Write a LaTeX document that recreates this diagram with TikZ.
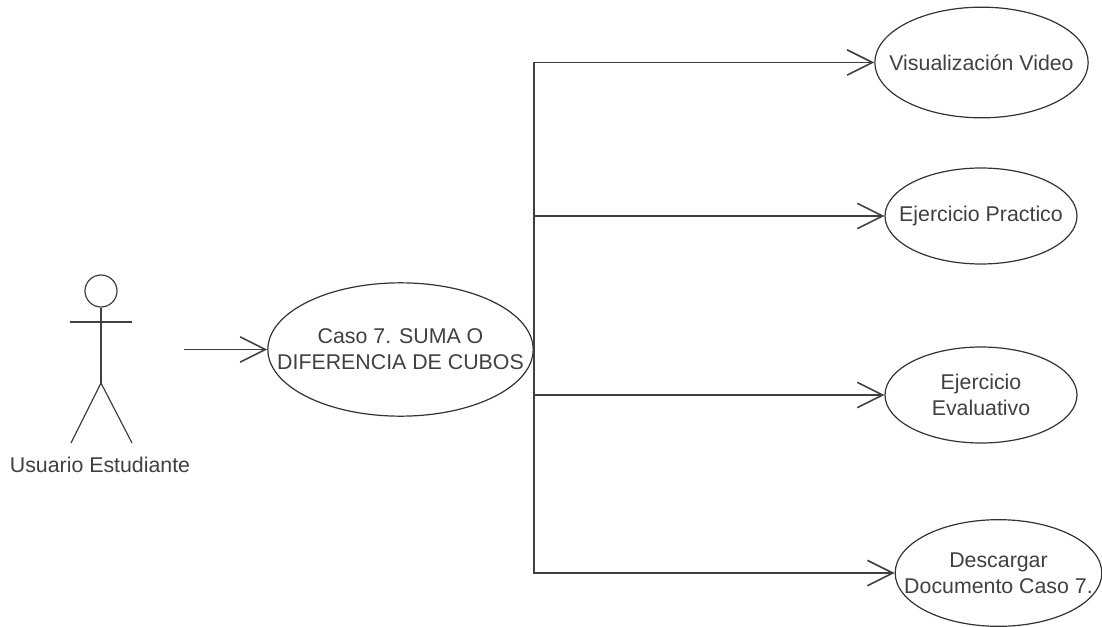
\documentclass[tikz,border=0pt]{standalone}
\usepackage{fontspec}
\setmainfont{Liberation Sans}
\usetikzlibrary{shapes,positioning}
\usetikzlibrary{arrows.meta}

\begin{document}
\begin{tikzpicture}[x=0.75pt,y=-0.75pt,
    usecase/.style={ellipse, draw=black!80, line width=0.9pt, inner xsep=-30pt, inner ysep=-12pt, align=center, text=black!75, font=\fontsize{16}{19.5}\selectfont},
    actorline/.style={draw=black!75, line width=0.9pt},
    actorhead/.style={circle, draw=black!75, line width=0.9pt, inner sep=0pt, minimum size=24pt},
    flow/.style={draw=black!75, line width=1.2pt, -{Straight Barb[length=19pt,width=19pt]}}
]
\useasboundingbox (0,0) rectangle (1102,627);

% Actor
\node[actorhead] (head) at (101,291) {};
\coordinate (hip) at (101,383);
\coordinate (armL) at (70,322);
\coordinate (armR) at (132,322);
\coordinate (legL) at (71,443);
\coordinate (legR) at (132,443);
\draw[actorline] (head) -- (hip);
\draw[actorline] (armL) -- (armR);
\draw[actorline] (legL) -- (hip) -- (legR);
\node[font=\fontsize{16}{19.5}\selectfont, text=black!75] (usuario) at (100,465) {Usuario Estudiante};

% Use cases
\node[usecase, minimum width=199pt, minimum height=100pt] (caso) at (400.5,349.5) {Caso 7. SUMA O\\DIFERENCIA DE CUBOS};
\node[usecase, minimum width=160pt, minimum height=83pt] (video) at (981.5,62.5) {Visualización Video};
\node[usecase, minimum width=144pt, minimum height=72pt] (practico) at (981,216) {Ejercicio Practico};
\node[usecase, minimum width=144pt, minimum height=72pt] (evaluativo) at (981,395) {Ejercicio\\Evaluativo};
\node[usecase, minimum width=155pt, minimum height=80pt] (descargar) at (998.5,573) {Descargar\\Documento Caso 7.};

% Connectors
\coordinate (hand) at (184,349.5);
\draw[flow] (hand) -- (caso);
\draw[flow] (caso.east) |- (video.west);
\draw[flow] (caso.east) |- (practico.west);
\draw[flow] (caso.east) |- (evaluativo.west);
\draw[flow] (caso.east) |- (descargar.west);

\end{tikzpicture}
\end{document}
